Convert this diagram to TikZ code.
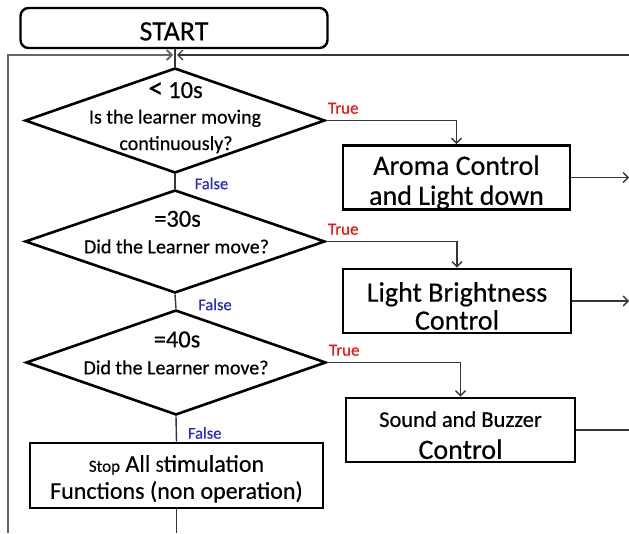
\documentclass[tikz,border=0pt]{standalone}
\usepackage{fontspec}
\setmainfont{Carlito}[FakeBold=0.4]
\usetikzlibrary{shapes.geometric,arrows.meta}
\definecolor{truered}{RGB}{230,25,25}
\definecolor{falseblue}{RGB}{40,40,200}
\definecolor{conncol}{RGB}{55,55,55}
\begin{document}
\begin{tikzpicture}[x=1pt,y=-1pt,
  decision/.style={diamond,draw=black,line width=2.6pt,inner sep=0pt,minimum width=300pt,minimum height=105pt},
  procbox/.style={rectangle,draw=black,line width=2.6pt,inner sep=0pt,align=center,font=\fontsize{28}{30}\selectfont},
  conn/.style={draw=conncol,line width=1.4pt},
  tip/.style={-{Straight Barb[length=5pt,width=10pt]}},
  truelbl/.style={text=truered,font=\fontsize{17}{18}\selectfont,inner sep=1pt},
  falselbl/.style={text=falseblue,font=\fontsize{16.5}{18}\selectfont,inner sep=1pt},
  timetext/.style={anchor=base,inner sep=0pt,font=\fontsize{24.5}{28}\selectfont},
  qline/.style={anchor=base,inner sep=0pt,font=\fontsize{20}{24}\selectfont},
]
\useasboundingbox (0,0) rectangle (629,533);
\fill[white] (0,0) rectangle (629,533);

% start
\node[draw=black,line width=2.4pt,rounded corners=8pt,minimum width=307pt,minimum height=40pt,inner sep=0pt,font=\fontsize{28}{30}\selectfont] (start) at (174,28) {\rule{0pt}{25pt}START};

% decisions
\node[decision] (d1) at (175,120.5) {};
\node[decision,minimum height=103pt] (d2) at (175,241.5) {};
\node[decision] (d3) at (176,362.5) {};

% decision texts
\node[timetext] (t1) at (175.5,98) {{\fontsize{30}{28}\selectfont <}\hspace{5pt}10s};
\node[qline] (q1a) at (175,123.5) {Is the learner moving};
\node[qline] (q1b) at (176,150) {continuously?};
\node[timetext] (t2) at (177.5,226.7) {=30s};
\node[qline] (q2) at (176.5,253.3) {Did the Learner move?};
\node[timetext] (t3) at (177,347.3) {=40s};
\node[qline] (q3) at (176,374.3) {Did the Learner move?};

% process boxes
\node[procbox,minimum width=227pt,minimum height=63pt] (aroma) at (456.5,177.5) {\rule{0pt}{29.5pt}Aroma Control\\and Light down};
\node[procbox,minimum width=228pt,minimum height=64pt,font=\fontsize{28}{28}\selectfont] (light) at (457,301) {\rule{0pt}{29.5pt}Light Brightness\\Control};
\node[procbox,minimum width=229pt,minimum height=64pt,font=\fontsize{28}{32}\selectfont] (sound) at (460.5,430) {\rule{0pt}{26pt}{\fontsize{22.5}{30}\selectfont Sound and Buzzer}\\Control};
\node[procbox,minimum width=293pt,minimum height=65pt,font=\fontsize{24}{27}\selectfont] (stop) at (176.5,475.5) {\rule{0pt}{23.4pt}{\fontsize{17}{20}\selectfont Stop} All {\fontsize{17}{20}\selectfont S}timulation\\Functions (non operation)};

% free ends
\coordinate (loopL) at (8,533);
\coordinate (loopR) at (629,55);
\coordinate (exitR) at (629,0);
\coordinate (exitB) at (0,533);

% loop back lines at top
\draw[conn,tip,draw=black!60,line width=1.8pt] (loopL) |- ([xshift=-2pt]loopR -| d1.north);
\draw[conn,tip] (loopR) -- ([xshift=2pt]loopR -| d1.north);
\draw[conn] (start.south -| d1.north) -- (d1.north);

% true branches
\draw[conn,tip] (d1.east) -| (aroma.north) node[pos=0,truelbl,anchor=south west,yshift=5pt]{True};
\draw[conn,tip] (d2.east) -| (light.north) node[pos=0,truelbl,anchor=south west,yshift=5pt]{True};
\draw[conn,tip] (d3.east) -| (sound.north) node[pos=0,truelbl,anchor=south west,yshift=5pt]{True};

% false branches
\draw[conn] (d1.south) -- (d2.north) node[midway,falselbl,right=18pt,yshift=-2pt]{False};
\draw[conn] (d2.south) -- (d3.north) node[midway,falselbl,right=21pt,yshift=-3pt]{False};
\draw[conn] (d3.south) -- (stop.north) node[midway,falselbl,right=10pt,yshift=-4pt]{False};

% outputs
\draw[conn,tip] (aroma.east) -- (aroma.east -| exitR);
\draw[conn,tip] (light.east) -- (light.east -| exitR);
\draw[conn] (sound.east) -- (sound.east -| exitR);
\draw[conn] (stop.south) -- (stop.south |- exitB);
\end{tikzpicture}
\end{document}
